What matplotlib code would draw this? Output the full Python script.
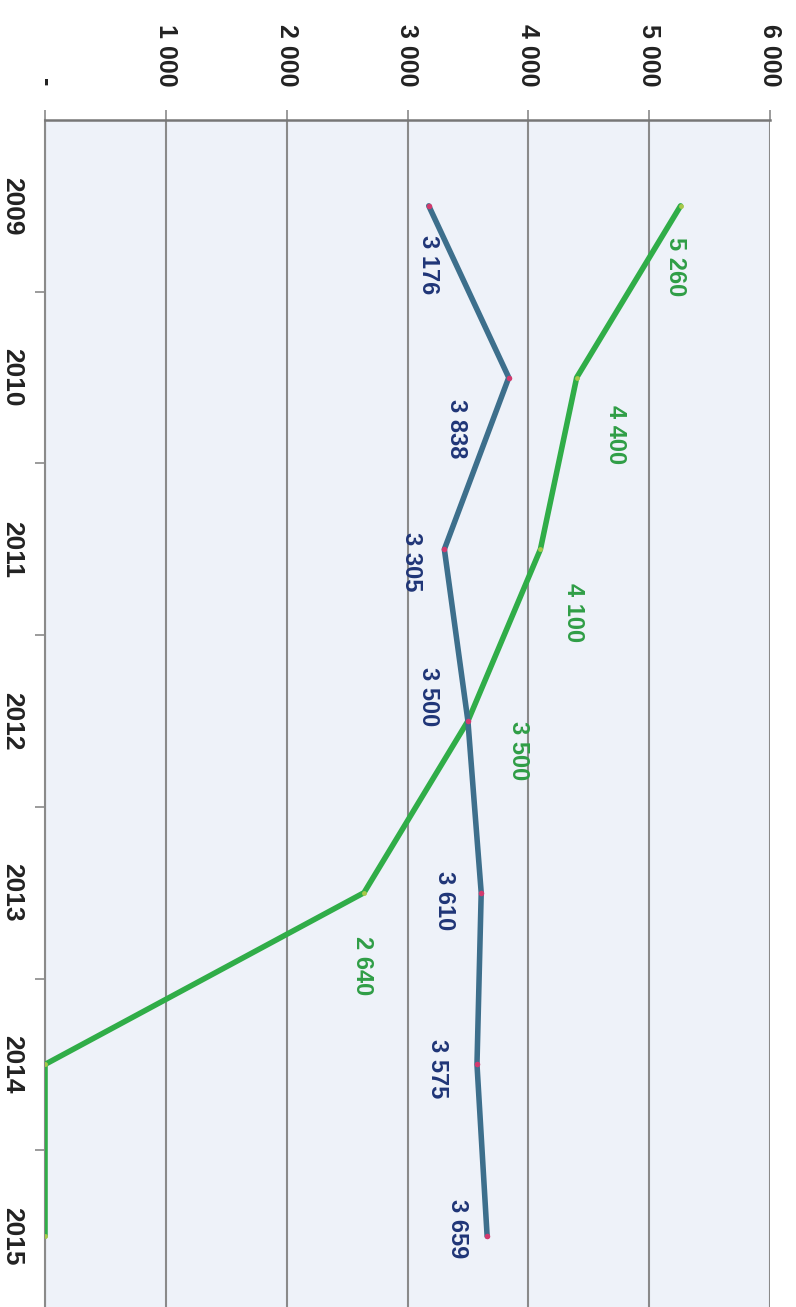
import matplotlib
matplotlib.use("Agg")
import matplotlib.pyplot as plt
from matplotlib.ticker import FixedLocator, FixedFormatter

# --- data ---
years = [2009, 2010, 2011, 2012, 2013, 2014, 2015]
green_vals = [5260, 4400, 4100, 3500, 2640, 0, 0]
blue_vals = [3176, 3838, 3305, 3500, 3610, 3575, 3659]
green_labels = ["5 260", "4 400", "4 100", "3 500", "2 640", None, None]
blue_labels = ["3 176", "3 838", "3 305", "3 500", "3 610", "3 575", "3 659"]
value_ticks = [0, 1000, 2000, 3000, 4000, 5000, 6000]
value_tick_labels = ["-", "1 000", "2 000", "3 000", "4 000", "5 000", "6 000"]

# label offsets in pixels (dx, dy), dy positive = down the page
blue_off = [(0, 59), (-52, 51), (-33, 12), (-39, -24), (-37, 8), (-39, 4), (-30, -8)]
green_off = [(-5, 61), (39, 57), (33, 63), (51, 30), (-2, 73), None, None]

GREEN = "#30ad48"
BLUE = "#3d6f8c"
GREEN_TXT = "#2f9e46"
BLUE_TXT = "#1f3577"
GRID = "#8a8a8a"

plt.rcParams['font.family'] = ['Liberation Sans', 'DejaVu Sans']

fig = plt.figure(figsize=(7.96, 13.07), dpi=100)
ax = fig.add_axes([45 / 796, (1307 - 1322) / 1307, 725 / 796, (1322 - 120) / 1307])
ax.set_facecolor("#eef2f9")

ax.plot(green_vals, years, color=GREEN, lw=4, solid_capstyle='round', zorder=3,
        marker='o', ms=3.5, mfc="#a8c84a", mec="none")
ax.plot(blue_vals, years, color=BLUE, lw=4, solid_capstyle='round', zorder=4,
        marker='o', ms=4, mfc="#d23a6e", mec="none")

for v, y, lab, off in zip(blue_vals, years, blue_labels, blue_off):
    ax.annotate(lab, (v, y), xytext=(off[0], -off[1]), textcoords='offset pixels',
                ha='center', va='center', rotation=-90, fontsize=17,
                fontweight='bold', color=BLUE_TXT, zorder=5)
for v, y, lab, off in zip(green_vals, years, green_labels, green_off):
    if lab is None:
        continue
    ax.annotate(lab, (v, y), xytext=(off[0], -off[1]), textcoords='offset pixels',
                ha='center', va='center', rotation=-90, fontsize=17,
                fontweight='bold', color=GREEN_TXT, zorder=5)

ax.set_xlim(0, 6000)
ax.set_ylim(2015.5, 2008.5)

# value axis on top
ax.xaxis.tick_top()
ax.xaxis.set_major_locator(FixedLocator(value_ticks))
ax.xaxis.set_major_formatter(FixedFormatter(value_tick_labels))
ax.tick_params(axis='x', which='major', direction='out', length=7, width=1.2,
               color=GRID, pad=17, labelsize=18, labelrotation=-90)
for t in ax.get_xticklabels():
    t.set_fontweight('bold')
    t.set_color("#222222")

# category axis on left
ax.yaxis.set_major_locator(FixedLocator(years))
ax.yaxis.set_minor_locator(FixedLocator([y + 0.5 for y in years[:-1]]))
ax.tick_params(axis='y', which='major', length=0, pad=15, labelsize=19,
               labelrotation=-90)
ax.tick_params(axis='y', which='minor', direction='out', length=7, width=1.2, color=GRID)
for t in ax.get_yticklabels():
    t.set_fontweight('bold')
    t.set_color("#222222")
    t.set_verticalalignment('center')

ax.grid(axis='x', color=GRID, lw=1.5, zorder=1)
ax.set_axisbelow(True)

for side in ['right', 'bottom']:
    ax.spines[side].set_visible(False)
ax.spines['top'].set_color("#777777")
ax.spines['top'].set_linewidth(1.8)
ax.spines['left'].set_color(GRID)
ax.spines['left'].set_linewidth(1.5)

fig.savefig("out.png", dpi=100, facecolor="white")
